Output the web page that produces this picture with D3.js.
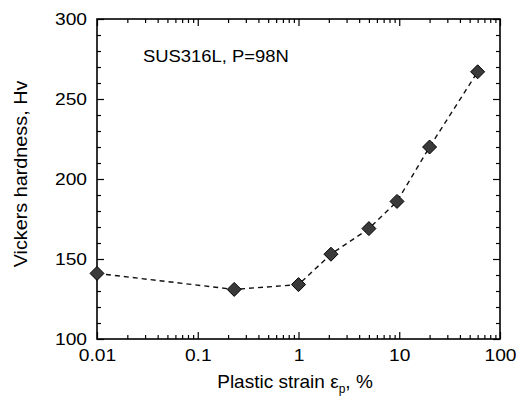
<!DOCTYPE html>
<html>
<head>
<meta charset="utf-8">
<script src="https://cdn.jsdelivr.net/npm/d3@7"></script>
<style>
  body { margin: 0; background: #fff; }
  svg { display: block; }
  text { fill: #000; }
</style>
</head>
<body>
<div id="chart"></div>
<script>
// Vickers hardness vs plastic strain, log x axis

const strain = [0.01, 0.23, 1, 2.1, 5, 9.5, 20, 60];
const hardness = [141, 131, 134, 153, 169, 186, 220, 267];
const xTickValues = [0.01, 0.1, 1, 10, 100];
const xTickLabels = ["0.01", "0.1", "1", "10", "100"];
const yTickValues = [100, 150, 200, 250, 300];

const width = 516;
const height = 398;
const margin = { top: 19, right: 16, bottom: 59, left: 97 };
const font = "'Liberation Sans', Arial, Helvetica, sans-serif";

const svg = d3
  .select("#chart")
  .append("svg")
  .attr("width", width)
  .attr("height", height);

const x = d3
  .scaleLog()
  .domain([0.01, 100])
  .range([margin.left, width - margin.right]);

const y = d3
  .scaleLinear()
  .domain([100, 300])
  .range([height - margin.bottom, margin.top]);

// minor ticks
let xMinor = [];
for (let e = -2; e < 2; e++) {
  for (let k = 2; k <= 9; k++) xMinor.push(k * Math.pow(10, e));
}
const yMinor = d3.range(100, 301, 10).filter((v) => v % 50 !== 0);

// stretch text a bit wider, the scan has wide glyphs
const widen = function (sel, f) {
  sel.each(function () {
    const w = this.getComputedTextLength();
    d3.select(this)
      .attr("textLength", w * f)
      .attr("lengthAdjust", "spacingAndGlyphs");
  });
};

const axisStyle = function (g) {
  g.select(".domain").remove();
  g.selectAll("line").attr("stroke", "#000").attr("stroke-width", 1.2);
};

// bottom axis (ticks inward)
svg
  .append("g")
  .attr("transform", `translate(0,${height - margin.bottom})`)
  .call(
    d3.axisBottom(x).tickValues(xTickValues).tickSize(-7).tickPadding(11)
      .tickFormat((d, i) => xTickLabels[i])
  )
  .call(axisStyle)
  .call((g) =>
    g.selectAll("text")
      .style("font-family", font)
      .style("font-size", "16px")
      .attr("fill", "#000")
      .call(widen, 1.2)
  );

svg
  .append("g")
  .attr("transform", `translate(0,${height - margin.bottom})`)
  .call(d3.axisBottom(x).tickValues(xMinor).tickSize(-4).tickFormat(""))
  .call(axisStyle);

// top axis
svg
  .append("g")
  .attr("transform", `translate(0,${margin.top})`)
  .call(d3.axisTop(x).tickValues(xTickValues).tickSize(-7).tickFormat(""))
  .call(axisStyle);
svg
  .append("g")
  .attr("transform", `translate(0,${margin.top})`)
  .call(d3.axisTop(x).tickValues(xMinor).tickSize(-4).tickFormat(""))
  .call(axisStyle);

// left axis
svg
  .append("g")
  .attr("transform", `translate(${margin.left},0)`)
  .call(d3.axisLeft(y).tickValues(yTickValues).tickSize(-7).tickPadding(10))
  .call(axisStyle)
  .call((g) =>
    g.selectAll("text")
      .style("font-family", font)
      .style("font-size", "16px")
      .attr("fill", "#000")
      .call(widen, 1.2)
  );
svg
  .append("g")
  .attr("transform", `translate(${margin.left},0)`)
  .call(d3.axisLeft(y).tickValues(yMinor).tickSize(-4).tickFormat(""))
  .call(axisStyle);

// right axis
svg
  .append("g")
  .attr("transform", `translate(${width - margin.right},0)`)
  .call(d3.axisRight(y).tickValues(yTickValues).tickSize(-7).tickFormat(""))
  .call(axisStyle);
svg
  .append("g")
  .attr("transform", `translate(${width - margin.right},0)`)
  .call(d3.axisRight(y).tickValues(yMinor).tickSize(-4).tickFormat(""))
  .call(axisStyle);

// frame
svg
  .append("rect")
  .attr("x", margin.left)
  .attr("y", margin.top)
  .attr("width", width - margin.left - margin.right)
  .attr("height", height - margin.top - margin.bottom)
  .attr("fill", "none")
  .attr("stroke", "#000")
  .attr("stroke-width", 1.6);

// dashed line through the points
const data = strain.map((s, i) => ({ s: s, h: hardness[i] }));

svg
  .append("path")
  .datum(data)
  .attr("fill", "none")
  .attr("stroke", "#111")
  .attr("stroke-width", 1.4)
  .attr("stroke-dasharray", "5,4")
  .attr(
    "d",
    d3.line()
      .x((d) => x(d.s))
      .y((d) => y(d.h))
  );

// diamond markers
svg
  .selectAll(".pt")
  .data(data)
  .enter()
  .append("path")
  .attr("class", "pt")
  .attr("transform", (d) => `translate(${x(d.s)},${y(d.h)})`)
  .attr("d", "M0,-7L7,0L0,7L-7,0Z")
  .attr("fill", "#3a3a3a")
  .attr("stroke", "#000")
  .attr("stroke-width", 1);

// annotation
svg
  .append("text")
  .attr("x", 143)
  .attr("y", 62)
  .attr("fill", "#000")
  .style("font-family", font)
  .style("font-size", "16px")
  .text("SUS316L, P=98N")
  .call(widen, 1.15);

// axis titles
const xTitle = svg
  .append("text")
  .attr("x", 295)
  .attr("y", 388)
  .attr("text-anchor", "middle")
  .attr("fill", "#000")
  .style("font-family", font)
  .style("font-size", "19px");
xTitle.append("tspan").attr("fill", "#000").text("Plastic strain ε");
xTitle.append("tspan").attr("fill", "#000").attr("dy", 5).style("font-size", "12px").text("p");
xTitle.append("tspan").attr("fill", "#000").attr("dy", -5).text(", %");

svg
  .append("text")
  .attr("transform", "translate(27,174) rotate(-90)")
  .attr("text-anchor", "middle")
  .attr("fill", "#000")
  .style("font-family", font)
  .style("font-size", "18px")
  .text("Vickers hardness, Hv")
  .call(widen, 1.1);
</script>
</body>
</html>
